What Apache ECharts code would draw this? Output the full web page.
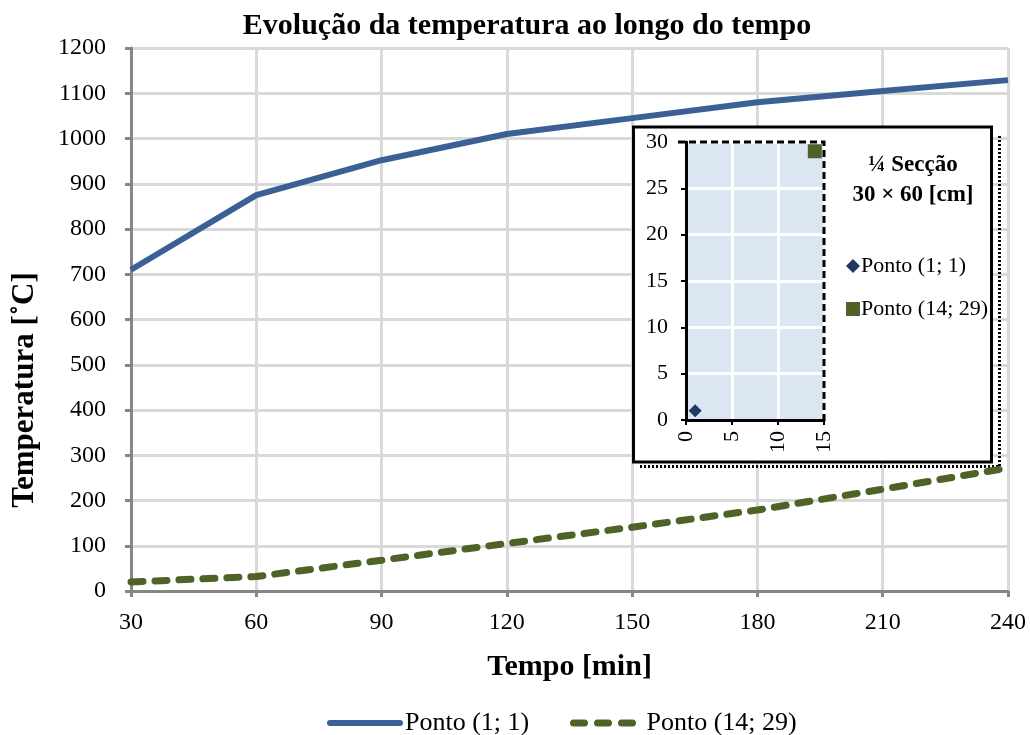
<!DOCTYPE html>
<html><head><meta charset="utf-8">
<script src="https://cdn.jsdelivr.net/npm/echarts@6/dist/echarts.min.js"></script>
<style>html,body{margin:0;padding:0;background:#fff}#c{width:1030px;height:735px}</style>
</head><body><div id="c"></div>
<script>
var times = [30, 60, 90, 120, 150, 180, 210, 240];
var tempP1 = [710, 875, 952, 1010, 1045, 1080, 1105, 1129];
var tempP2 = [20, 32, 68, 105, 141, 179, 225, 272];
var seriesNames = ['Ponto (1; 1)', 'Ponto (14; 29)'];
var insetPoint1 = [1, 1];
var insetPoint2 = [14, 29];
var xTicks = {min: 30, max: 240, interval: 30};
var yTicks = {min: 0, max: 1200, interval: 100};
var insetX = {min: 0, max: 15, interval: 5};
var insetY = {min: 0, max: 30, interval: 5};

var FONT = 'Liberation Serif';
var blue = '#3b6096', green = '#4f6228', navy = '#1f3864';
var chart = echarts.init(document.getElementById('c'), null, {renderer: 'canvas'});
var insetNames = {inset1: seriesNames[0], inset2: seriesNames[1]};
var plain = function (v) { return String(v); };
var solidIcon = 'path://M3,0 L73,0 A3,3 0 0 1 73,6 L3,6 A3,3 0 0 1 3,0 Z';
var dashIcon = 'path://M3.5,0 L14.5,0 A3.5,3.5 0 0 1 14.5,7 L3.5,7 A3.5,3.5 0 0 1 3.5,0 Z ' +
  'M27.5,0 L38.5,0 A3.5,3.5 0 0 1 38.5,7 L27.5,7 A3.5,3.5 0 0 1 27.5,0 Z ' +
  'M51.5,0 L62.5,0 A3.5,3.5 0 0 1 62.5,7 L51.5,7 A3.5,3.5 0 0 1 51.5,0 Z';

chart.setOption({
  backgroundColor: '#fff',
  animation: false,
  title: {text: 'Evolução da temperatura ao longo do tempo', left: 522, textAlign: 'center', top: 6,
    textStyle: {fontFamily: FONT, fontSize: 30, fontWeight: 'bold', color: '#000'}},
  grid: [
    {left: 131, right: 22, top: 48, bottom: 144},
    {left: 686, top: 142, width: 138, height: 278, show: true, backgroundColor: '#dce6f2', borderWidth: 0, z: 3}
  ],
  xAxis: [
    {gridIndex: 0, type: 'value', min: xTicks.min, max: xTicks.max, interval: xTicks.interval,
     name: 'Tempo [min]', nameLocation: 'middle', nameGap: 61,
     nameTextStyle: {fontFamily: FONT, fontSize: 30, fontWeight: 'bold', color: '#000'},
     axisLine: {lineStyle: {color: '#868686', width: 3}},
     axisTick: {show: true, length: 6, lineStyle: {color: '#868686', width: 3}},
     axisLabel: {fontFamily: FONT, fontSize: 24, color: '#000', margin: 20, formatter: plain},
     splitLine: {show: true, lineStyle: {color: '#d9d9d9', width: 3}}},
    {gridIndex: 1, type: 'value', min: insetX.min, max: insetX.max, interval: insetX.interval, z: 3,
     axisLine: {onZero: false, lineStyle: {color: '#000', width: 3}},
     axisTick: {show: true, length: 5, lineStyle: {color: '#000', width: 2}},
     axisLabel: {fontFamily: FONT, fontSize: 22, color: '#000', rotate: 90, margin: 11, formatter: plain},
     splitLine: {show: true, lineStyle: {color: '#fff', width: 3}}}
  ],
  yAxis: [
    {gridIndex: 0, type: 'value', min: yTicks.min, max: yTicks.max, interval: yTicks.interval,
     axisLine: {show: true, lineStyle: {color: '#868686', width: 3}},
     axisTick: {show: true, length: 6, lineStyle: {color: '#868686', width: 3}},
     axisLabel: {fontFamily: FONT, fontSize: 24, color: '#000', margin: 25, formatter: plain},
     splitLine: {show: true, lineStyle: {color: '#d9d9d9', width: 3}}},
    {gridIndex: 1, type: 'value', min: insetY.min, max: insetY.max, interval: insetY.interval, z: 3,
     axisLine: {show: true, onZero: false, lineStyle: {color: '#000', width: 3}},
     axisTick: {show: true, length: 5, lineStyle: {color: '#000', width: 2}},
     axisLabel: {fontFamily: FONT, fontSize: 22, color: '#000', margin: 18, formatter: plain},
     splitLine: {show: true, lineStyle: {color: '#fff', width: 3}}}
  ],
  legend: [
    {data: [{name: seriesNames[0], icon: solidIcon}], left: 322, top: 705, itemWidth: 76, itemHeight: 6, itemGap: 0,
     textStyle: {fontFamily: FONT, fontSize: 26, color: '#000', padding: [0, 0, 0, -3]}},
    {data: [{name: seriesNames[1], icon: dashIcon}], left: 565, top: 705, itemWidth: 67, itemHeight: 7, itemGap: 0,
     textStyle: {fontFamily: FONT, fontSize: 26, color: '#000', padding: [0, 0, 0, 5]}},
    {data: [{name: 'inset1', icon: 'diamond'}, {name: 'inset2', icon: 'rect'}], orient: 'vertical',
     left: 841, top: 250, itemGap: 21, itemWidth: 14, itemHeight: 14, z: 30,
     formatter: function (n) { return insetNames[n]; },
     textStyle: {fontFamily: FONT, fontSize: 22, color: '#000', padding: [0, 0, 0, -4]}}
  ],
  series: [
    {name: seriesNames[0], type: 'line', xAxisIndex: 0, yAxisIndex: 0, showSymbol: false, symbol: 'none',
     data: times.map(function (t, i) { return [t, tempP1[i]]; }),
     lineStyle: {color: blue, width: 6}, itemStyle: {color: blue}, z: 2},
    {name: seriesNames[1], type: 'line', xAxisIndex: 0, yAxisIndex: 0, showSymbol: false, symbol: 'none',
     data: times.map(function (t, i) { return [t, tempP2[i]]; }),
     lineStyle: {color: green, width: 7, type: [12, 12], cap: 'round'}, itemStyle: {color: green}, z: 2},
    {name: 'inset1', type: 'scatter', xAxisIndex: 1, yAxisIndex: 1, symbol: 'diamond', symbolSize: 13,
     data: [insetPoint1], itemStyle: {color: navy, opacity: 1}, z: 20},
    {name: 'inset2', type: 'scatter', xAxisIndex: 1, yAxisIndex: 1, symbol: 'rect', symbolSize: 14,
     data: [insetPoint2], itemStyle: {color: green, opacity: 1}, z: 20}
  ],
  graphic: [
    {type: 'text', x: 25, y: 390, rotation: Math.PI / 2, z: 10,
     style: {text: 'Temperatura [˚C]', fontFamily: FONT, fontSize: 31, fontWeight: 'bold', fill: '#000',
             textAlign: 'center', textVerticalAlign: 'middle'}},
    {type: 'line', shape: {x1: 999.5, y1: 136, x2: 999.5, y2: 467}, z: 1,
     style: {stroke: '#000', lineWidth: 3, lineDash: [2, 2]}},
    {type: 'line', shape: {x1: 640, y1: 466.5, x2: 1000, y2: 466.5}, z: 1,
     style: {stroke: '#000', lineWidth: 3, lineDash: [2, 2]}},
    {type: 'rect', shape: {x: 633.5, y: 127, width: 358, height: 335}, z: 1,
     style: {fill: '#fff', stroke: '#000', lineWidth: 3}},
    {type: 'text', x: 913, y: 180, z: 30,
     style: {text: '¼ Secção\n30 × 60 [cm]', fontFamily: FONT, fontSize: 23, fontWeight: 'bold', fill: '#000',
             textAlign: 'center', textVerticalAlign: 'middle', lineHeight: 30}},
    {type: 'polyline', shape: {points: [[678, 142], [824, 142], [824, 420]]}, z: 25,
     style: {stroke: '#000', lineWidth: 3, lineDash: [7, 4], fill: null}}
  ]
});
</script></body></html>
